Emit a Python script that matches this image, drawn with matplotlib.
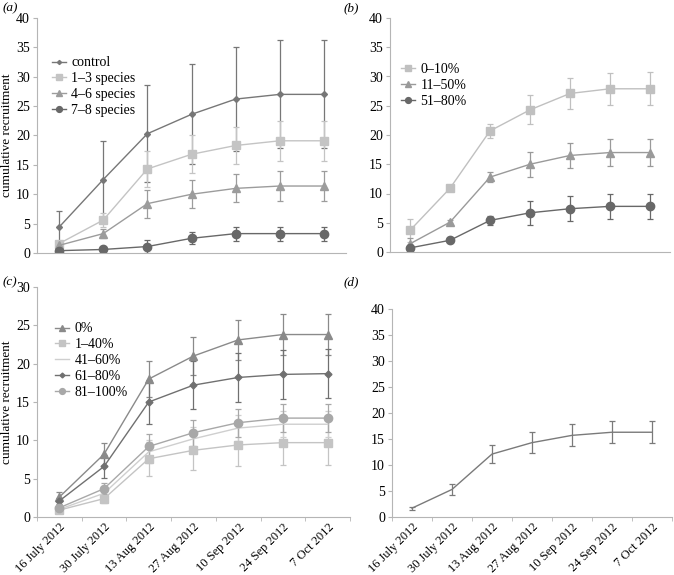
import matplotlib.pyplot as plt
from matplotlib.lines import Line2D
import numpy as np

plt.rcParams['font.family'] = ['Liberation Serif', 'DejaVu Serif']
plt.rcParams['font.size'] = 9

dates = ["16 July 2012", "30 July 2012", "13 Aug 2012", "27 Aug 2012",
         "10 Sep 2012", "24 Sep 2012", "7 Oct 2012"]

# (a) species richness of neighbours
a_names = ["control", "1\u20133 species", "4\u20136 species", "7\u20138 species"]
a_vals = [
    [4.4, 12.5, 20.3, 23.6, 26.2, 27.0, 27.0],
    [1.6, 5.6, 14.3, 16.8, 18.3, 19.1, 19.1],
    [1.3, 3.3, 8.4, 10.0, 11.0, 11.4, 11.4],
    [0.4, 0.6, 1.1, 2.5, 3.3, 3.3, 3.3],
]
a_err = [
    [2.7, 6.5, 8.3, 8.5, 8.9, 9.2, 9.2],
    [0.5, 1.2, 3.0, 3.2, 3.2, 3.4, 3.4],
    [0.5, 0.8, 2.4, 2.4, 2.4, 2.5, 2.5],
    [0.2, 0.3, 1.1, 1.0, 1.2, 1.2, 1.2],
]

# (b) cover classes
b_names = ["0\u201310%", "11\u201350%", "51\u201380%"]
b_vals = [
    [3.7, 10.9, 20.7, 24.3, 27.1, 27.9, 27.9],
    [1.4, 5.1, 12.8, 15.0, 16.5, 17.0, 17.0],
    [0.7, 2.0, 5.4, 6.7, 7.4, 7.8, 7.8],
]
b_err = [
    [2.0, 0.3, 1.2, 2.5, 2.7, 2.7, 2.8],
    [1.0, 0.3, 0.8, 2.1, 2.2, 2.3, 2.3],
    [0.5, 0.3, 0.7, 2.0, 2.1, 2.2, 2.2],
]

# (c) percentage classes
c_names = ["0%", "1\u201340%", "41\u201360%", "61\u201380%", "81\u2013100%"]
c_vals = [
    [2.6, 8.2, 18.0, 21.0, 23.1, 23.8, 23.8],
    [0.9, 2.4, 7.6, 8.7, 9.4, 9.7, 9.7],
    [1.0, 3.1, 8.5, 10.2, 11.6, 12.1, 12.1],
    [2.1, 6.6, 15.0, 17.2, 18.2, 18.6, 18.7],
    [1.2, 3.7, 9.2, 11.0, 12.3, 12.9, 12.9],
]
c_err = [
    [0.6, 1.5, 2.4, 2.5, 2.6, 2.7, 2.7],
    [0.4, 0.6, 2.2, 2.6, 2.8, 2.9, 2.9],
    [0.4, 0.6, 1.5, 1.6, 1.7, 1.7, 1.7],
    [0.4, 1.5, 2.9, 3.1, 3.2, 3.2, 3.2],
    [0.4, 0.7, 1.6, 1.7, 1.8, 1.8, 1.8],
]

# (d) overall
d_vals = [1.7, 5.3, 12.1, 14.3, 15.7, 16.3, 16.3]
d_err = [0.3, 1.0, 1.8, 2.0, 2.1, 2.1, 2.1]

x = np.arange(len(dates))

fig = plt.figure(figsize=(6.74, 5.75), dpi=100)
W, H = 674, 575


def px_axes(l, t, r, b):
    return fig.add_axes([l / W, 1 - b / H, (r - l) / W, (b - t) / H])


def style(ax, ymax, step, labels):
    for s in ["top", "right"]:
        ax.spines[s].set_visible(False)
    for s in ["left", "bottom"]:
        ax.spines[s].set_color("#b5b5b5")
        ax.spines[s].set_linewidth(0.8)
    ax.set_xlim(-0.5, len(dates) - 0.5)
    ax.set_ylim(0, ymax)
    ax.set_yticks(np.arange(0, ymax + 0.1, step))
    ax.tick_params(axis="y", length=3, color="#b5b5b5", labelsize=10, pad=2)
    ax.set_xticks(x)
    if labels:
        ax.set_xticklabels(dates, rotation=45, ha="right", rotation_mode="anchor",
                           fontsize=9)
        ax.set_xticks(np.arange(-0.5, len(dates)), minor=True)
        ax.tick_params(axis="x", which="major", length=0, pad=3)
        ax.tick_params(axis="x", which="minor", length=3, color="#b5b5b5")
    else:
        ax.set_xticklabels([])
        ax.tick_params(axis="x", length=0)


def series(ax, vals, err, color, marker, ms):
    ax.errorbar(x, vals, yerr=err, color=color, marker=marker, ms=ms, lw=1.0,
                elinewidth=0.9, capsize=2, capthick=0.9, mec=color, mfc=color)


def legend(ax, names, cols, mks, anchor):
    handles = [Line2D([], [], color=c, marker=m, ms=ms * 0.7, lw=1.0, mec=c, mfc=c)
               for c, (m, ms) in zip(cols, mks)]
    ax.legend(handles, names, loc="upper left", bbox_to_anchor=anchor,
              frameon=False, fontsize=10, handlelength=1.0, handletextpad=0.4,
              labelspacing=0.2, borderaxespad=0)


ax_a = px_axes(37, 18, 346, 253)
ax_b = px_axes(390, 18, 670, 252)
ax_c = px_axes(37, 287, 350, 517)
ax_d = px_axes(392, 309, 672, 517)

a_cols = ["#777777", "#c4c4c4", "#9c9c9c", "#686868"]
a_mk = [("D", 3), ("s", 6), ("^", 5.5), ("o", 6)]
for v, e, c, (m, ms) in zip(a_vals, a_err, a_cols, a_mk):
    series(ax_a, v, e, c, m, ms)
style(ax_a, 40, 5, False)
ax_a.set_ylabel("cumulative recruitment", fontsize=9.5, labelpad=2)
legend(ax_a, a_names, a_cols, a_mk, (0.03, 0.86))

b_cols = ["#c0c0c0", "#9a9a9a", "#686868"]
b_mk = [("s", 6), ("^", 5.5), ("o", 6)]
for v, e, c, (m, ms) in zip(b_vals, b_err, b_cols, b_mk):
    series(ax_b, v, e, c, m, ms)
style(ax_b, 40, 5, False)
legend(ax_b, b_names, b_cols, b_mk, (0.02, 0.83))

c_cols = ["#8a8a8a", "#c4c4c4", "#cfcfcf", "#707070", "#a8a8a8"]
c_mk = [("^", 5.5), ("s", 6), ("", 0), ("D", 3.5), ("o", 6)]
for v, e, c, (m, ms) in zip(c_vals, c_err, c_cols, c_mk):
    if m:
        series(ax_c, v, e, c, m, ms)
    else:
        ax_c.errorbar(x, v, yerr=e, color=c, lw=1.0, elinewidth=0.9, capsize=2,
                      capthick=0.9)
style(ax_c, 30, 5, True)
ax_c.set_ylabel("cumulative recruitment", fontsize=9.5, labelpad=2)
legend(ax_c, c_names, c_cols, c_mk, (0.04, 0.87))

ax_d.errorbar(x, d_vals, yerr=d_err, color="#7a7a7a", lw=1.0, elinewidth=0.9,
              capsize=2.5, capthick=0.9)
style(ax_d, 40, 5, True)

for lab, (px, py) in zip("abcd", [(3, 8), (344, 8), (3, 282), (344, 282)]):
    fig.text(px / W, 1 - py / H, "(" + lab + ")", fontsize=9.5, style="italic",
             va="center", ha="left")

fig.savefig("out.png", dpi=100)
